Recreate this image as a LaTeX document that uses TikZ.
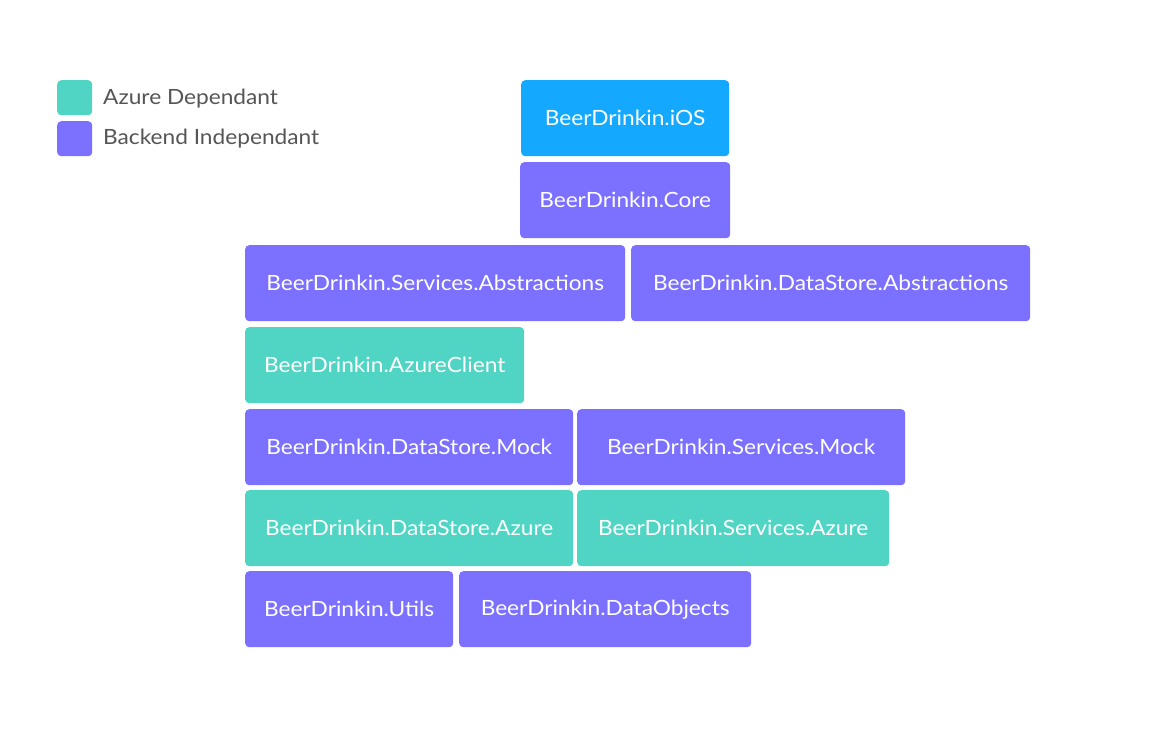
\documentclass[tikz,border=0pt]{standalone}
\usepackage{fontspec}
\setmainfont{Lato}[FakeStretch=1.08]
\definecolor{teal}{HTML}{50D4C4}
\definecolor{purp}{HTML}{7B70FF}
\definecolor{sky}{HTML}{14A9FF}
\definecolor{txt}{HTML}{555555}
\begin{document}
\begin{tikzpicture}[x=1pt,y=-1pt,
  box/.style={rounded corners=4pt, anchor=north west, minimum height=76pt, inner sep=0pt, text=white, font=\fontsize{21}{24}\selectfont},
  leg/.style={rounded corners=4pt, anchor=north west, minimum width=35pt, minimum height=35pt, inner sep=0pt},
  legtxt/.style={anchor=west, text=txt, inner sep=0pt, font=\fontsize{21}{24}\selectfont}]
\useasboundingbox (0,0) rectangle (1151,748);
% legend
\node[leg, fill=teal] (l1) at (57,80) {};
\node[leg, fill=purp] (l2) at (57,121) {};
\node[legtxt] (t1) at (103,98.5) {Azure Dependant};
\node[legtxt] (t2) at (103,139) {Backend Independant};
% boxes
\node[box, fill=sky, minimum width=208pt] (ios) at (521,80) {BeerDrinkin.iOS};
\node[box, fill=purp, minimum width=210pt] (core) at (520,162) {BeerDrinkin.Core};
\node[box, fill=purp, minimum width=380pt] (sabs) at (245,245) {BeerDrinkin.Services.Abstractions};
\node[box, fill=purp, minimum width=399pt] (dabs) at (631,245) {BeerDrinkin.DataStore.Abstractions};
\node[box, fill=teal, minimum width=279pt] (azc) at (245,327) {BeerDrinkin.AzureClient};
\node[box, fill=purp, minimum width=328pt] (dsm) at (245,409) {BeerDrinkin.DataStore.Mock};
\node[box, fill=purp, minimum width=328pt] (svm) at (577,409) {BeerDrinkin.Services.Mock};
\node[box, fill=teal, minimum width=328pt] (dsa) at (245,490) {BeerDrinkin.DataStore.Azure};
\node[box, fill=teal, minimum width=312pt] (sva) at (577,490) {BeerDrinkin.Services.Azure};
\node[box, fill=purp, minimum width=208pt] (utl) at (245,571) {BeerDrinkin.Utils};
\node[box, fill=purp, minimum width=292pt] (dob) at (459,571) {BeerDrinkin.DataObjects};
\end{tikzpicture}
\end{document}
